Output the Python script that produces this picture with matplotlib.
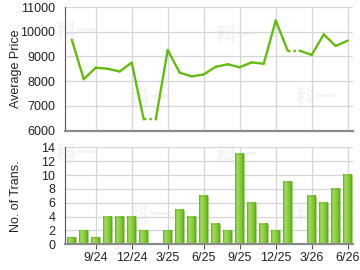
import numpy as np
import matplotlib
matplotlib.use("Agg")
import matplotlib.pyplot as plt
from matplotlib.colors import LinearSegmentedColormap

plt.rcParams['font.family'] = ['Liberation Sans', 'Noto Sans CJK SC', 'DejaVu Sans']

months = ["7/24", "8/24", "9/24", "10/24", "11/24", "12/24", "1/25", "2/25", "3/25",
          "4/25", "5/25", "6/25", "7/25", "8/25", "9/25", "10/25", "11/25", "12/25",
          "1/26", "2/26", "3/26", "4/26", "5/26", "6/26"]
prices = [9680, 8080, 8540, 8500, 8390, 8750, 6450, None, 9260, 8340, 8190, 8270,
          8580, 8680, 8560, 8760, 8700, 10450, 9230, None, 9060, 9890, 9420, 9640]
trans = [1, 2, 1, 4, 4, 4, 2, 0, 2, 5, 4, 7, 3, 2, 13, 6, 3, 2, 9, 0, 7, 6, 8, 10]
tick_labels = ["9/24", "12/24", "3/25", "6/25", "9/25", "12/25", "3/26", "6/26"]

x = np.arange(len(months))
tick_pos = [months.index(t) for t in tick_labels]

# fill missing with previous value
filled = []
for p in prices:
    filled.append(p if p is not None else filled[-1])

fig = plt.figure(figsize=(3.6, 2.7), dpi=100)
W, H = 360, 270
def rect(l, t, r, b):
    return [l / W, 1 - b / H, (r - l) / W, (b - t) / H]

ax1 = fig.add_axes(rect(65, 7, 353, 130.5))
ax2 = fig.add_axes(rect(65, 147.3, 353, 244.3))

green = '#66bb11'
grid_c = '#d6d6d6'

for ax in (ax1, ax2):
    ax.set_facecolor('none')
    ax.set_xlim(-0.56, 23.44)
    ax.set_xticks(tick_pos)
    ax.grid(True, color=grid_c, lw=0.9, zorder=0)
    ax.set_axisbelow(True)
    for s in ('top', 'right'):
        ax.spines[s].set_visible(False)
    ax.spines['left'].set_color('#555555')
    ax.spines['left'].set_linewidth(0.8)
    ax.spines['bottom'].set_color('#8a8a8a')
    ax.spines['bottom'].set_linewidth(1.6)
    ax.tick_params(axis='y', length=0, pad=7, labelsize=9, labelcolor='#222222')

# top chart
ax1.set_ylim(6000, 11000)
ax1.set_yticks([6000, 7000, 8000, 9000, 10000, 11000])
ax1.tick_params(axis='x', length=0, labelbottom=False)
for i in range(len(x) - 1):
    ls = (0, (1, 1.3)) if prices[i + 1] is None else '-'
    ax1.plot(x[i:i + 2], filled[i:i + 2], color=green, lw=1.7, ls=ls,
             solid_capstyle='round', solid_joinstyle='round', zorder=3)
ax1.set_ylabel("Average Price", fontsize=9, color='#222222')
ax1.yaxis.set_label_coords(-0.148, 0.5)

# bottom chart
ax2.set_ylim(0, 14)
ax2.set_yticks(range(0, 15, 2))
ax2.set_xticklabels(tick_labels)
ax2.tick_params(axis='x', length=3.5, width=0.8, color='#555555', pad=2,
                labelsize=9, labelcolor='#222222')
ax2.set_ylabel("No. of Trans.", fontsize=9, color='#222222')
ax2.yaxis.set_label_coords(-0.148, 0.5)

cmap = LinearSegmentedColormap.from_list(
    'bar', ['#5fae1c', '#a6dc66', '#8fd048', '#7cc436', '#5aa812'])
grad = np.linspace(0, 1, 64).reshape(1, -1)
bw = 0.72
for xi, v in zip(x, trans):
    if v <= 0:
        continue
    ax2.imshow(grad, cmap=cmap, aspect='auto', extent=(xi - bw / 2, xi + bw / 2, 0, v),
               zorder=2, interpolation='bilinear')
    ax2.bar(xi, v, width=bw, color='none', edgecolor='#6cb82a', lw=0.4, zorder=3)
ax2.set_xlim(-0.56, 23.44)
ax2.set_ylim(0, 14)

# watermarks
wm = [(76, 31), (149, 97), (236, 36), (316, 97), (76, 154), (149, 216), (236, 156), (316, 215)]
for (px, py) in wm:
    fig.text(px / W, 1 - py / H, "科一", family='Noto Sans CJK SC', fontsize=15,
             fontweight='bold', color='#f4f4f4', ha='center', va='center', zorder=-5)

fig.savefig("out.png", dpi=100)
